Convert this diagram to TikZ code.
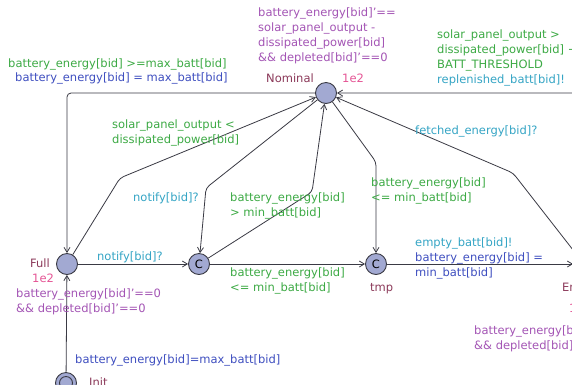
\documentclass[tikz,border=0pt]{standalone}
\usepackage{fontspec}
\setmainfont{DejaVu Sans}
\usetikzlibrary{arrows.meta}
\definecolor{guard}{HTML}{3DAA45}
\definecolor{sync}{HTML}{35A5C5}
\definecolor{assign}{HTML}{3F4FC0}
\definecolor{inv}{HTML}{A455B5}
\definecolor{lname}{HTML}{8C3A5A}
\definecolor{rate}{HTML}{E55595}
\definecolor{nfill}{HTML}{A2A9D2}
\definecolor{edgec}{HTML}{3A3A44}
\begin{document}
\begin{tikzpicture}[x=1pt,y=-1pt,
  font=\fontsize{11.5}{15}\selectfont,
  loc/.style={circle, draw=edgec, fill=nfill, line width=0.9pt, minimum size=21pt, inner sep=0pt},
  tr/.style={draw=edgec, line width=0.8pt, rounded corners=4pt, -{Straight Barb[length=5pt,width=6pt]}},
  lbl/.style={anchor=base west, inner sep=0pt, align=left},
  gd/.style={lbl, text=guard},
  sy/.style={lbl, text=sync},
  as/.style={lbl, text=assign},
  iv/.style={lbl, text=inv},
  nm/.style={lbl, text=lname},
  rt/.style={lbl, text=rate}]
\useasboundingbox (0,0) rectangle (572,384);
\clip (0,0) rectangle (572,384);
\fill[white] (0,0) rectangle (572,384);
% locations
\node[loc] (Nom) at (326,93) {};
\node[loc] (Full) at (67,264) {};
\node[loc] (C1) at (199,264) {C};
\node[loc] (tmp) at (376,264) {C};
\node[loc] (Empty) at (584,264) {};
\node[loc] (Init) at (66,383) {};
\draw[edgec, line width=0.9pt] (Init.center) circle (6.5pt);
% transitions
\draw[tr] (Init) -- (Full);
\draw[tr] (Nom) -| (Full);
\draw[tr] (Full) -- (120,178) -- (Nom);
\draw[tr] (Nom) -- (206,188) -- (C1);
\draw[tr] (C1) -- (312,192) -- (Nom);
\draw[tr] (Nom) -- (376,162) -- (tmp);
\draw[tr] (Empty) -- (513,173) -- (Nom);
\draw[tr] (Empty) |- (Nom);
\draw[tr] (Full) -- (C1);
\draw[tr] (C1) -- (tmp);
\draw[tr] (tmp) -- (Empty);
% labels (base = baseline of last line)
\node[gd] (g1) at (8,67) {battery\_energy[bid] >=max\_batt[bid]};
\node[as] (a1) at (15,81) {battery\_energy[bid] = max\_batt[bid]};
\node[iv] (i1) at (258,61) {battery\_energy[bid]'==\\solar\_panel\_output -\\dissipated\_power[bid]\\\&\& depleted[bid]'==0};
\node[nm] (n1) at (266,82) {Nominal};
\node[rt] (r1) at (342,82) {1e2};
\node[gd] (g2) at (437,68) {solar\_panel\_output >\\dissipated\_power[bid] +\\BATT\_THRESHOLD};
\node[sy] (s2) at (437,83) {replenished\_batt[bid]!};
\node[gd] (g3) at (112,143) {solar\_panel\_output <\\dissipated\_power[bid]};
\node[sy] (s4) at (133,201) {notify[bid]?};
\node[gd] (g5) at (230,216) {battery\_energy[bid]\\> min\_batt[bid]};
\node[sy] (s6) at (415,134) {fetched\_energy[bid]?};
\node[gd] (g7) at (371,201) {battery\_energy[bid]\\<= min\_batt[bid]};
\node[sy] (s8) at (415,246) {empty\_batt[bid]!};
\node[as] (a8) at (415,276) {battery\_energy[bid] =\\min\_batt[bid]};
\node[nm] (n2) at (370,291) {tmp};
\node[nm] (n3) at (562,291) {Empty};
\node[rt] (r3) at (569,312) {1e2};
\node[iv] (i3) at (474,349) {battery\_energy[bid]'==0\\\&\& depleted[bid]'==0};
\node[sy] (s9) at (97,260) {notify[bid]?};
\node[nm] (n4) at (30,267) {Full};
\node[rt] (r4) at (32,282) {1e2};
\node[iv] (i4) at (16,312) {battery\_energy[bid]'==0\\\&\& depleted[bid]'==0};
\node[gd] (g10) at (230,291) {battery\_energy[bid]\\<= min\_batt[bid]};
\node[as] (a11) at (75,363) {battery\_energy[bid]=max\_batt[bid]};
\node[nm] (n5) at (89,386) {Init};
\end{tikzpicture}
\end{document}
